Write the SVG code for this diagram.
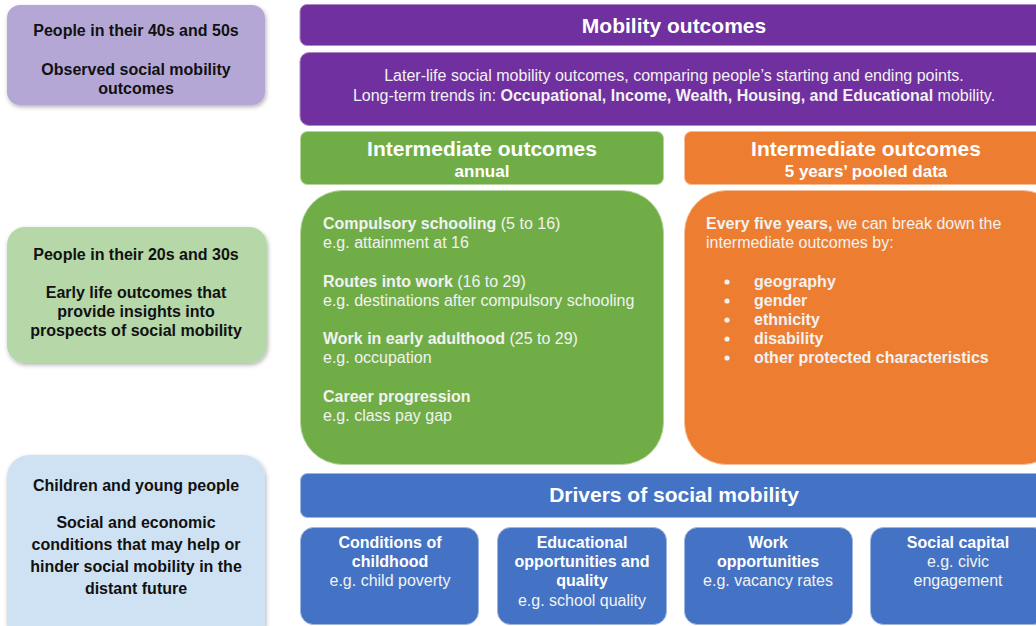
<svg xmlns="http://www.w3.org/2000/svg" width="1036" height="626" viewBox="0 0 1036 626">
<defs>
<filter id="sh" x="-10%" y="-10%" width="125%" height="130%">
<feDropShadow dx="1" dy="2" stdDeviation="2" flood-color="#000" flood-opacity="0.3"/>
</filter>
<style>
text{font-family:"Liberation Sans",Arial,sans-serif;}
.lt{font-size:16px;font-weight:bold;fill:#111;text-anchor:middle;}
.hd{font-size:21px;font-weight:bold;fill:#fff;text-anchor:middle;}
.sub{font-size:17px;font-weight:bold;fill:#fff;text-anchor:middle;}
.sb{font-size:16px;font-weight:bold;fill:#fff;text-anchor:middle;}
.bd{font-size:16px;fill:#f2f2f2;}
.bc{font-size:16px;fill:#f2f2f2;text-anchor:middle;}
.b{font-weight:bold;}
.pu{fill:#7030a0;stroke:#a98cc4;stroke-width:1;}
.gr{fill:#70ad47;stroke:#b5d5a0;stroke-width:1;}
.or{fill:#ed7d31;stroke:#f5be98;stroke-width:1;}
.bl{fill:#4472c4;stroke:#9fb6e0;stroke-width:1;}
</style>
</defs>
<rect width="1036" height="626" fill="#fff"/>

<g id="left-40s">
<rect x="7" y="5" width="258" height="100" rx="13" fill="#b4a7d6" filter="url(#sh)"/>
<text class="lt" x="136" y="36">People in their 40s and 50s</text>
<text class="lt" x="136" y="75">Observed social mobility</text>
<text class="lt" x="136" y="94">outcomes</text>
</g>

<g id="left-20s">
<rect x="7" y="227" width="260" height="136" rx="18" fill="#b6d7a8" filter="url(#sh)"/>
<text class="lt" x="136" y="260">People in their 20s and 30s</text>
<text class="lt" x="136" y="298">Early life outcomes that</text>
<text class="lt" x="136" y="317">provide insights into</text>
<text class="lt" x="136" y="336">prospects of social mobility</text>
</g>

<g id="left-children">
<rect x="7" y="455" width="258" height="190" rx="22" fill="#cfe2f3" filter="url(#sh)"/>
<text class="lt" x="136" y="491">Children and young people</text>
<text class="lt" x="136" y="528">Social and economic</text>
<text class="lt" x="136" y="550">conditions that may help or</text>
<text class="lt" x="136" y="572">hinder social mobility in the</text>
<text class="lt" x="136" y="594">distant future</text>
</g>

<g id="mobility-header">
<rect class="pu" x="300" y="4.5" width="760" height="41" rx="7"/>
<text class="hd" x="674" y="33">Mobility outcomes</text>
</g>

<g id="mobility-body">
<rect class="pu" x="300" y="52.5" width="760" height="73" rx="9"/>
<text class="bc" x="674" y="81">Later-life social mobility outcomes, comparing people’s starting and ending points.</text>
<text class="bc" x="674" y="101">Long-term trends in: <tspan class="b">Occupational, Income, Wealth, Housing, and Educational</tspan> mobility.</text>
</g>

<g id="inter-annual-header">
<rect class="gr" x="300.5" y="131.5" width="363" height="53" rx="7"/>
<text class="hd" x="482" y="156">Intermediate outcomes</text>
<text class="sub" x="482" y="177">annual</text>
</g>

<g id="inter-5y-header">
<rect class="or" x="684.5" y="131.5" width="380" height="53" rx="7"/>
<text class="hd" x="866" y="156">Intermediate outcomes</text>
<text class="sub" x="866" y="177">5 years’ pooled data</text>
</g>

<g id="inter-annual-body">
<rect class="gr" x="300.5" y="190.5" width="363" height="274" rx="42"/>
<text class="bd" x="323" y="229"><tspan class="b">Compulsory schooling</tspan> (5 to 16)</text>
<text class="bd" x="323" y="248">e.g. attainment at 16</text>
<text class="bd" x="323" y="287"><tspan class="b">Routes into work</tspan> (16 to 29)</text>
<text class="bd" x="323" y="306">e.g. destinations after compulsory schooling</text>
<text class="bd" x="323" y="344"><tspan class="b">Work in early adulthood</tspan> (25 to 29)</text>
<text class="bd" x="323" y="363">e.g. occupation</text>
<text class="bd" x="323" y="402"><tspan class="b">Career progression</tspan></text>
<text class="bd" x="323" y="421">e.g. class pay gap</text>
</g>

<g id="inter-5y-body">
<rect class="or" x="684.5" y="190.5" width="380" height="274" rx="42"/>
<text class="bd" x="706" y="229"><tspan class="b">Every five years,</tspan> we can break down the</text>
<text class="bd" x="706" y="248">intermediate outcomes by:</text>
<g fill="#f2f2f2">
<circle cx="727" cy="282" r="2.6"/>
<circle cx="727" cy="301" r="2.6"/>
<circle cx="727" cy="320" r="2.6"/>
<circle cx="727" cy="339" r="2.6"/>
<circle cx="727" cy="358" r="2.6"/>
</g>
<text class="bd b" x="754" y="287">geography</text>
<text class="bd b" x="754" y="306">gender</text>
<text class="bd b" x="754" y="325">ethnicity</text>
<text class="bd b" x="754" y="344">disability</text>
<text class="bd b" x="754" y="363">other protected characteristics</text>
</g>

<g id="drivers-header">
<rect class="bl" x="300.5" y="473.5" width="760" height="44" rx="7"/>
<text class="hd" x="674" y="502">Drivers of social mobility</text>
</g>

<g id="driver-childhood">
<rect class="bl" x="300.5" y="527.5" width="178" height="97" rx="13"/>
<text class="sb" x="390" y="548">Conditions of</text>
<text class="sb" x="390" y="567">childhood</text>
<text class="bc" x="390" y="586">e.g. child poverty</text>
</g>

<g id="driver-education">
<rect class="bl" x="497.5" y="527.5" width="169" height="97" rx="13"/>
<text class="sb" x="582" y="548">Educational</text>
<text class="sb" x="582" y="567">opportunities and</text>
<text class="sb" x="582" y="586">quality</text>
<text class="bc" x="582" y="606">e.g. school quality</text>
</g>

<g id="driver-work">
<rect class="bl" x="684.5" y="527.5" width="168" height="97" rx="13"/>
<text class="sb" x="768" y="548">Work</text>
<text class="sb" x="768" y="567">opportunities</text>
<text class="bc" x="768" y="586">e.g. vacancy rates</text>
</g>

<g id="driver-social">
<rect class="bl" x="870.5" y="527.5" width="176" height="97" rx="13"/>
<text class="sb" x="958" y="548">Social capital</text>
<text class="bc" x="958" y="567">e.g. civic</text>
<text class="bc" x="958" y="586">engagement</text>
</g>

<g id="connectors"></g>
</svg>
